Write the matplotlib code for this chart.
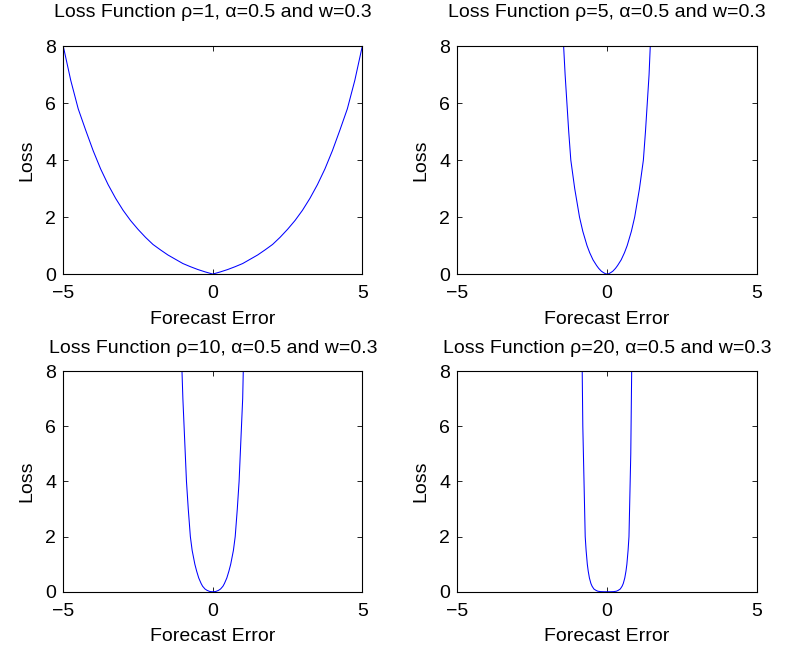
import numpy as np
import matplotlib
matplotlib.use('Agg')
import matplotlib.pyplot as plt

plt.rcParams['font.family'] = ['Liberation Sans', 'DejaVu Sans']

# 各 rho 的曲线（从图上读出的点）
rho_values = [1, 5, 10, 20]
alpha_value = 0.5
w_value = 0.3

err_rho1 = [-5.0, -4.75, -4.5, -4.25, -4.0, -3.75, -3.5, -3.25, -3.0, -2.75, -2.5, -2.25,
            -2.0, -1.75, -1.5, -1.25, -1.0, -0.75, -0.5, -0.25, 0.0,
            0.25, 0.5, 0.75, 1.0, 1.25, 1.5, 1.75, 2.0, 2.25, 2.5, 2.75,
            3.0, 3.25, 3.5, 3.75, 4.0, 4.25, 4.5, 4.75, 5.0]
loss_rho1 = [8.0, 6.8, 5.8, 5.05, 4.33, 3.69, 3.14, 2.66, 2.24, 1.88, 1.57, 1.29,
             1.04, 0.85, 0.67, 0.52, 0.37, 0.26, 0.16, 0.075, 0.0,
             0.075, 0.16, 0.26, 0.37, 0.52, 0.67, 0.85, 1.04, 1.29, 1.57, 1.88,
             2.24, 2.66, 3.14, 3.69, 4.33, 5.05, 5.8, 6.8, 8.0]

err_rho5 = [-1.45, -1.40, -1.34, -1.28, -1.21, -1.08, -1.00, -0.92, -0.81, -0.67, -0.58, -0.47,
            -0.35, -0.28, -0.19, -0.12, -0.05, 0.0,
            0.05, 0.12, 0.19, 0.28, 0.35, 0.47, 0.58, 0.67, 0.81, 0.92, 1.00, 1.08,
            1.21, 1.28, 1.34, 1.40, 1.44]
loss_rho5 = [8.0, 7.0, 6.0, 5.0, 4.0, 3.0, 2.5, 2.0, 1.5, 1.0, 0.75, 0.5,
             0.3, 0.2, 0.1, 0.05, 0.01, 0.0,
             0.01, 0.05, 0.1, 0.2, 0.3, 0.5, 0.75, 1.0, 1.5, 2.0, 2.5, 3.0,
             4.0, 5.0, 6.0, 7.0, 8.0]

err_rho10 = [-1.03, -1.00, -0.96, -0.92, -0.88, -0.82, -0.75, -0.69, -0.60, -0.54, -0.47,
             -0.39, -0.34, -0.26, -0.19, -0.10, 0.0,
             0.10, 0.19, 0.26, 0.34, 0.39, 0.47, 0.54, 0.60, 0.69, 0.75, 0.82,
             0.88, 0.92, 0.96, 1.00, 1.02]
loss_rho10 = [8.0, 7.0, 6.0, 5.0, 4.0, 3.0, 2.0, 1.5, 1.0, 0.75, 0.5,
              0.3, 0.2, 0.1, 0.05, 0.01, 0.0,
              0.01, 0.05, 0.1, 0.2, 0.3, 0.5, 0.75, 1.0, 1.5, 2.0, 3.0,
              4.0, 5.0, 6.0, 7.0, 8.0]

err_rho20 = [-0.83, -0.82, -0.81, -0.79, -0.77, -0.75, -0.73, -0.70, -0.66, -0.63, -0.59,
             -0.54, -0.50, -0.44, -0.37, -0.31, -0.22, -0.10, 0.0,
             0.10, 0.22, 0.31, 0.37, 0.44, 0.50, 0.54, 0.59, 0.63, 0.66, 0.70,
             0.73, 0.75, 0.77, 0.79, 0.80, 0.81, 0.82]
loss_rho20 = [8.0, 7.0, 6.0, 5.0, 4.0, 3.0, 2.0, 1.5, 1.0, 0.75, 0.5,
              0.3, 0.2, 0.1, 0.05, 0.02, 0.005, 0.0005, 0.0,
              0.0005, 0.005, 0.02, 0.05, 0.1, 0.2, 0.3, 0.5, 0.75, 1.0, 1.5,
              2.0, 3.0, 4.0, 5.0, 6.0, 7.0, 8.0]

curves = [(err_rho1, loss_rho1), (err_rho5, loss_rho5),
          (err_rho10, loss_rho10), (err_rho20, loss_rho20)]

x_ticks = [-5, 0, 5]
x_tick_labels = ['\u22125', '0', '5']
y_ticks = [0, 2, 4, 6, 8]

fig = plt.figure(figsize=(7.91, 6.51), dpi=100)

# 子图位置 (left, bottom, width, height)
positions = [
    [0.080, 0.579, 0.378, 0.350],
    [0.578, 0.579, 0.379, 0.350],
    [0.080, 0.091, 0.378, 0.339],
    [0.578, 0.091, 0.379, 0.339],
]
# 标题与坐标轴的距离（上排更高）
title_pads = [21, 21, 13, 13]

for i, rho in enumerate(rho_values):
    ax = fig.add_axes(positions[i])
    x, y = curves[i]
    ax.plot(x, y, color=(0, 0, 1), linewidth=0.75)
    ax.set_xlim(-5, 5)
    ax.set_ylim(0, 8)
    ax.set_xticks(x_ticks)
    ax.set_yticks(y_ticks)
    ax.set_xticklabels(x_tick_labels)
    ax.tick_params(direction='in', top=True, right=True, length=3.5, width=0.6,
                   labelsize=14)
    ax.tick_params(axis='x', pad=8)
    ax.tick_params(axis='y', pad=5)
    for s in ax.spines.values():
        s.set_linewidth(0.8)
    ax.set_xlabel('Forecast Error', fontsize=14, labelpad=6)
    ax.set_ylabel('Loss', fontsize=14, labelpad=7)
    ax.set_title('Loss Function \u03c1=%d, \u03b1=%.1f and w=%.1f' % (rho, alpha_value, w_value),
                 fontsize=14, pad=title_pads[i])

fig.savefig('out.png', dpi=100)
